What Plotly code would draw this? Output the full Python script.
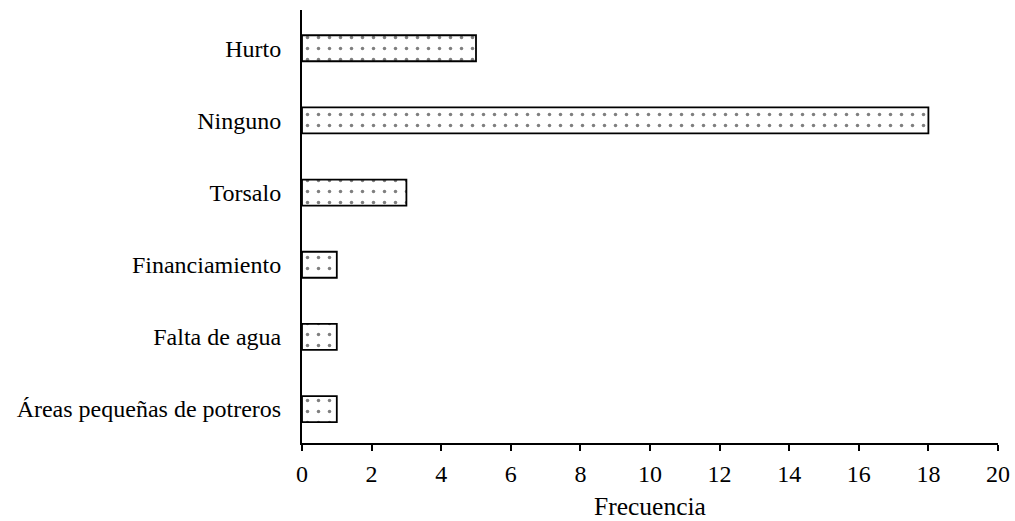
import plotly.graph_objects as go

categories = ["Áreas pequeñas de potreros", "Falta de agua", "Financiamiento", "Torsalo", "Ninguno", "Hurto"]
frecuencia = [1, 1, 1, 3, 18, 5]
x_ticks = [0, 2, 4, 6, 8, 10, 12, 14, 16, 18, 20]

fig = go.Figure(go.Bar(
    y=categories, x=frecuencia, orientation="h", width=0.36,
    marker=dict(color="white", line=dict(color="black", width=1.8),
                pattern=dict(shape=".", size=11, solidity=0.08, fgcolor="black", bgcolor="white")),
))
fig.update_layout(
    width=1015, height=521, margin=dict(l=302, r=17, t=10, b=78, autoexpand=False),
    plot_bgcolor="white", paper_bgcolor="white",
    font=dict(family="Liberation Serif, Times New Roman, serif", size=22, color="black"),
    showlegend=False,
)
fig.update_xaxes(range=[0, 20], tickvals=x_ticks, showline=True, linecolor="black", linewidth=2,
                 ticks="outside", ticklen=6, tickwidth=2, tickcolor="black", showgrid=False, zeroline=False,
                 tickfont=dict(size=24), ticklabelstandoff=2, automargin=False,
                 title=dict(text="Frecuencia", font=dict(size=25.5), standoff=18))
fig.update_yaxes(categoryorder="array", categoryarray=categories, range=[-0.47, 5.53],
                 showline=True, linecolor="black", linewidth=2, ticks="", showgrid=False,
                 automargin=False,
                 tickfont=dict(size=24), ticklabelstandoff=14)
fig.write_html("out.html")
